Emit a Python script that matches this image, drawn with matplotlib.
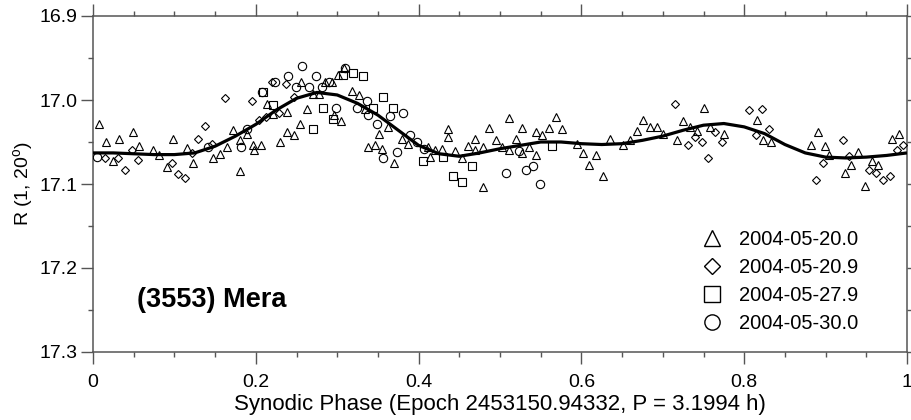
import matplotlib
matplotlib.use("Agg")
import matplotlib.pyplot as plt
from matplotlib.lines import Line2D
from matplotlib.ticker import MultipleLocator, FixedLocator

plt.rcParams['font.family'] = ['Liberation Sans', 'DejaVu Sans']
plt.rcParams['mathtext.fontset'] = 'custom'
plt.rcParams['mathtext.rm'] = 'Liberation Sans'

# ---- data ----
tri_phase = [0.0077, 0.0156, 0.0323, 0.0488, 0.0569, 0.0242, 0.0733, 0.0815, 0.0905, 0.0986,
             0.1151, 0.1232, 0.1478, 0.1560, 0.1643, 0.1724, 0.1806, 0.1806, 0.1888, 0.1969,
             0.1978, 0.2060, 0.2134, 0.2297, 0.2380, 0.2469, 0.2543, 0.2215, 0.2387, 0.2555,
             0.2633, 0.2706, 0.2780, 0.2854, 0.2936, 0.2964, 0.3014, 0.3087, 0.3047, 0.3178,
             0.3272, 0.3345, 0.3375, 0.3464, 0.3547, 0.3514, 0.3628, 0.3701, 0.3792, 0.3873,
             0.4119, 0.4140, 0.4201, 0.4284, 0.4365, 0.4365, 0.4447, 0.4530, 0.4611, 0.4693,
             0.4693, 0.4787, 0.4787, 0.4865, 0.4947, 0.5028, 0.5111, 0.5111, 0.5193, 0.5274,
             0.5274, 0.5356, 0.5438, 0.5438, 0.5520, 0.5602, 0.5684, 0.5765, 0.5942, 0.6016,
             0.6097, 0.6179, 0.6269, 0.6351, 0.6515, 0.6597, 0.6679, 0.6760, 0.6843, 0.6925,
             0.7006, 0.7171, 0.7252, 0.7334, 0.7416, 0.7506, 0.7580, 0.7752, 0.8161, 0.8235,
             0.8326, 0.8821, 0.8910, 0.8993, 0.9046, 0.9238, 0.9312, 0.9402, 0.9484, 0.9574,
             0.9648, 0.9820, 0.9902]
tri_mag = [17.028, 17.050, 17.046, 17.038, 17.055, 17.073, 17.060, 17.065, 17.080, 17.046,
           17.057, 17.075, 17.069, 17.064, 17.056, 17.036, 17.048, 17.085, 17.040, 17.054,
           17.060, 17.054, 17.005, 17.050, 17.038, 17.042, 17.028, 17.017, 17.014, 16.978,
           17.011, 16.993, 16.993, 16.978, 16.979, 17.018, 16.970, 16.962, 17.025, 16.989,
           16.994, 17.011, 17.056, 17.053, 17.058, 17.041, 17.032, 17.075, 17.046, 17.052,
           17.056, 17.068, 17.060, 17.058, 17.035, 17.044, 17.061, 17.069, 17.055, 17.047,
           17.060, 17.056, 17.104, 17.033, 17.048, 17.056, 17.022, 17.060, 17.047, 17.033,
           17.063, 17.056, 17.038, 17.065, 17.042, 17.033, 17.020, 17.035, 17.052, 17.063,
           17.077, 17.065, 17.090, 17.047, 17.054, 17.048, 17.037, 17.024, 17.032, 17.032,
           17.040, 17.048, 17.025, 17.032, 17.037, 17.010, 17.032, 17.040, 17.024, 17.048,
           17.050, 17.054, 17.038, 17.055, 17.066, 17.087, 17.077, 17.062, 17.102, 17.073,
           17.077, 17.046, 17.040]

dia_phase = [0.0147, 0.0311, 0.0393, 0.0475, 0.0557, 0.0967, 0.1048, 0.1130, 0.1213, 0.1294,
             0.1376, 0.1458, 0.1622, 0.1957, 0.2039, 0.2122, 0.2203, 0.2285, 0.2367, 0.2469,
             0.7150, 0.7313, 0.7396, 0.7478, 0.7559, 0.7641, 0.7731, 0.8059, 0.8222, 0.8141,
             0.8305, 0.8882, 0.8964, 0.9210, 0.9291, 0.9537, 0.9619, 0.9709, 0.9791, 0.9873,
             0.9955]
dia_mag = [17.069, 17.069, 17.083, 17.060, 17.071, 17.075, 17.088, 17.093, 17.063, 17.047,
           17.031, 17.052, 16.998, 17.001, 17.024, 17.020, 16.979, 17.015, 16.981, 16.997,
           17.005, 17.054, 17.044, 17.050, 17.069, 17.038, 17.050, 17.012, 17.011, 17.042,
           17.035, 17.095, 17.075, 17.048, 17.067, 17.083, 17.087, 17.095, 17.090, 17.060,
           17.054]

sq_phase = [0.2092, 0.2215, 0.2822, 0.2699, 0.2952, 0.3075, 0.3198, 0.3313, 0.3559, 0.3436,
            0.3682, 0.4050, 0.4296, 0.4656, 0.4419, 0.4533, 0.5635]
sq_mag = [16.990, 17.006, 17.009, 17.034, 17.023, 16.970, 16.968, 16.971, 16.996, 17.009,
          17.009, 17.073, 17.068, 17.078, 17.090, 17.098, 17.055]

cir_phase = [0.0045, 0.1888, 0.1818, 0.2236, 0.2399, 0.2490, 0.2568, 0.2654, 0.2736, 0.2817,
             0.2899, 0.2985, 0.3096, 0.3240, 0.3362, 0.3382, 0.1416, 0.2080, 0.3649, 0.3812,
             0.3485, 0.3894, 0.3984, 0.3566, 0.3738, 0.4066, 0.5074, 0.5319, 0.5402, 0.5491,
             0.5237]
cir_mag = [17.068, 17.035, 17.056, 16.978, 16.972, 16.984, 16.960, 16.984, 16.971, 16.984,
           16.978, 17.009, 16.962, 17.010, 17.001, 17.018, 17.056, 16.991, 17.019, 17.015,
           17.029, 17.042, 17.050, 17.069, 17.062, 17.058, 17.087, 17.083, 17.079, 17.100,
           17.061]

fit_phase = [0.000, 0.025, 0.050, 0.075, 0.100, 0.125, 0.150, 0.175, 0.200, 0.225,
             0.250, 0.275, 0.300, 0.325, 0.350, 0.375, 0.400, 0.425, 0.450, 0.475,
             0.500, 0.525, 0.550, 0.575, 0.600, 0.625, 0.650, 0.675, 0.700, 0.725,
             0.750, 0.775, 0.800, 0.825, 0.850, 0.875, 0.900, 0.925, 0.950, 0.975, 1.000]
fit_mag = [17.063, 17.063, 17.064, 17.065, 17.065, 17.063, 17.055, 17.043, 17.029, 17.012,
           16.998, 16.991, 16.994, 17.004, 17.018, 17.036, 17.054, 17.064, 17.067, 17.063,
           17.058, 17.054, 17.050, 17.050, 17.052, 17.053, 17.052, 17.048, 17.043, 17.036,
           17.030, 17.028, 17.032, 17.040, 17.053, 17.063, 17.068, 17.069, 17.068, 17.066,
           17.063]

labels = ['2004-05-20.0', '2004-05-20.9', '2004-05-27.9', '2004-05-30.0']
x_ticks = [0, 0.2, 0.4, 0.6, 0.8, 1.0]
x_ticklabels = ['0', '0.2', '0.4', '0.6', '0.8', '1']
y_ticks = [16.9, 17.0, 17.1, 17.2, 17.3]
y_ticklabels = ['16.9', '17.0', '17.1', '17.2', '17.3']

# ---- figure ----
fig = plt.figure(figsize=(9.11, 4.2), dpi=100)
ax = fig.add_axes([93/911, (420-352)/420, 814/911, 336/420])

mk = dict(linestyle='none', markerfacecolor='none', markeredgecolor='black', markeredgewidth=0.8)
ax.plot(tri_phase, tri_mag, marker='^', markersize=6.2, **mk, zorder=3)
ax.plot(dia_phase, dia_mag, marker='D', markersize=4.3, **mk, zorder=3)
ax.plot(sq_phase, sq_mag, marker='s', markersize=6.2, **mk, zorder=3)
ax.plot(cir_phase, cir_mag, marker='o', markersize=6.0, **mk, zorder=3)
ax.plot(fit_phase, fit_mag, color='black', linewidth=2.3, zorder=4, solid_capstyle='butt')

ax.set_xlim(0, 1)
ax.set_ylim(17.3, 16.9)
ax.xaxis.set_major_locator(FixedLocator(x_ticks))
ax.set_xticklabels(x_ticklabels)
ax.xaxis.set_minor_locator(MultipleLocator(0.05))
ax.yaxis.set_major_locator(FixedLocator(y_ticks))
ax.set_yticklabels(y_ticklabels)
ax.yaxis.set_minor_locator(MultipleLocator(0.05))

spine_c = '#555555'
for s in ax.spines.values():
    s.set_color(spine_c)
    s.set_linewidth(1.1)
ax.tick_params(which='both', direction='out', top=True, right=True, color=spine_c, width=1.0,
               labelsize=14, labelcolor='black')
ax.tick_params(which='major', length=8.5)
ax.tick_params(which='minor', length=3.8)
ax.tick_params(axis='x', which='major', pad=7)
ax.tick_params(axis='y', which='major', pad=2.5)

ax.set_xlabel('Synodic Phase (Epoch 2453150.94332, P = 3.1994 h)', fontsize=16, labelpad=2.5)
ax.set_ylabel('R (1, 20$^{\\rm o}$)', fontsize=14, labelpad=3)

ax.text(0.054, 0.155, '(3553) Mera', transform=ax.transAxes, fontsize=19.5, fontweight='bold',
        ha='left', va='center')

hmk = dict(linestyle='none', markerfacecolor='none', markeredgecolor='black', markeredgewidth=1.0)
handles = [Line2D([], [], marker='^', markersize=12, **hmk),
           Line2D([], [], marker='D', markersize=8, **hmk),
           Line2D([], [], marker='s', markersize=11.5, **hmk),
           Line2D([], [], marker='o', markersize=11, **hmk)]
ax.legend(handles, labels, loc='lower right', bbox_to_anchor=(0.952, 0.027), frameon=False,
          fontsize=14.5, handlelength=1.0, handletextpad=0.8, labelspacing=0.45, borderpad=0)

fig.savefig('out.png', dpi=100)
